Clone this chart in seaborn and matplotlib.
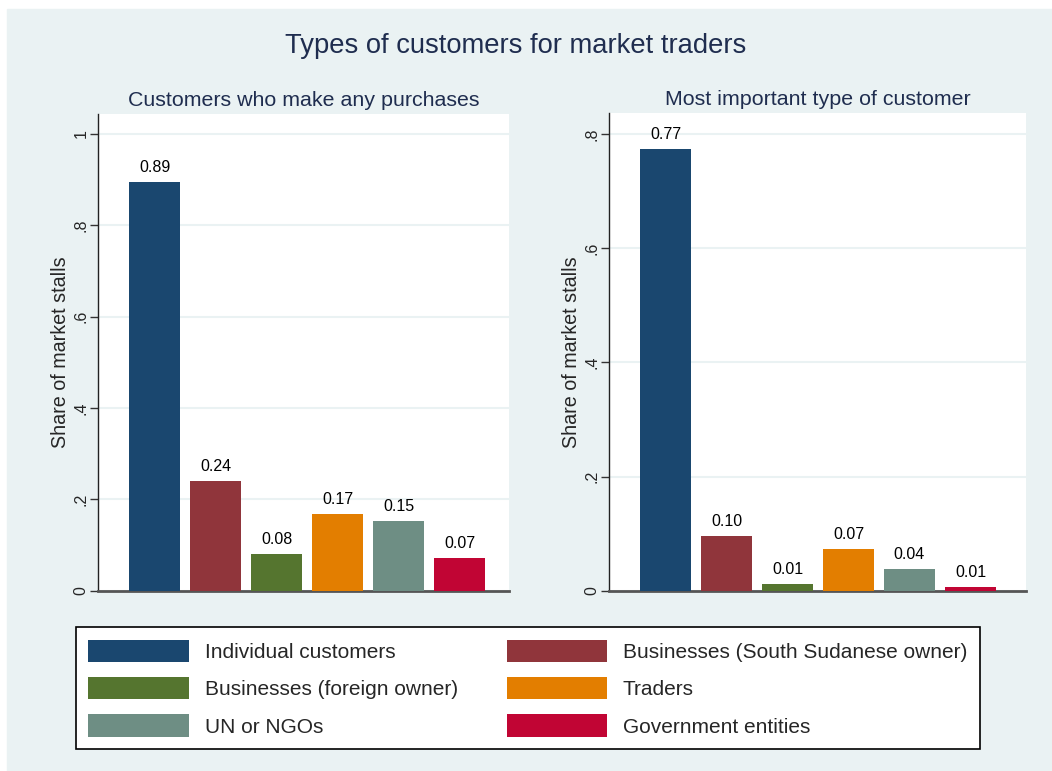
import numpy as np
import pandas as pd
import seaborn as sns
import matplotlib.pyplot as plt
from matplotlib.patches import Patch, Rectangle

# data
categories = ["Individual customers", "Businesses (South Sudanese owner)",
              "Businesses (foreign owner)", "Traders", "UN or NGOs",
              "Government entities"]
any_purchase = [0.894, 0.240, 0.080, 0.168, 0.153, 0.072]
most_important = [0.774, 0.096, 0.012, 0.073, 0.038, 0.007]
colors = ["#1a476f", "#90353b", "#55752f", "#e37e00", "#6e8e84", "#c10534"]
left_ticks = [0, 0.2, 0.4, 0.6, 0.8, 1.0]
right_ticks = [0, 0.2, 0.4, 0.6, 0.8]

BG = "#eaf2f3"
NAVY = "#1f2d4f"

sns.set_style("white")
plt.rcParams["font.family"] = ["Liberation Sans", "DejaVu Sans"]

fig = plt.figure(figsize=(10.52, 7.71), dpi=100, facecolor="white")
fig.add_artist(Rectangle((7 / 1052, 0), 1 - 7 / 1052, 1 - 9 / 771,
                         transform=fig.transFigure, color=BG, zorder=-10))

W, H = 1052, 771


def axes_at(x0, x1, top, bottom):
    return fig.add_axes([x0 / W, 1 - bottom / H, (x1 - x0) / W, (bottom - top) / H])


def stata_label(v):
    if v == 0:
        return "0"
    if v == 1:
        return "1"
    return ("%.1f" % v).lstrip("0")


def panel(ax, values, title, ticks, ylim, xlim):
    df = pd.DataFrame({"cat": categories, "val": values})
    sns.barplot(data=df, x="cat", y="val", hue="cat", palette=colors,
                order=categories, hue_order=categories, width=0.836,
                saturation=1, linewidth=0, legend=False, ax=ax, zorder=3)
    for c in ax.containers:
        ax.bar_label(c, fmt="%.2f", padding=5, fontsize=11.5, color="black")
    ax.set_facecolor("white")
    ax.set_ylim(*ylim)
    ax.set_xlim(*xlim)
    ax.set_yticks(ticks)
    ax.set_yticklabels([stata_label(t) for t in ticks], rotation=90,
                       va="center", fontsize=11.5)
    ax.tick_params(axis="y", length=6, width=1, color="#333333", pad=1, left=True)
    ax.tick_params(axis="x", bottom=False, labelbottom=False)
    ax.grid(axis="y", color=BG, linewidth=1.5, zorder=0)
    ax.set_axisbelow(True)
    for s in ["top", "right"]:
        ax.spines[s].set_visible(False)
    ax.spines["left"].set_color("#222222")
    ax.spines["left"].set_linewidth(1)
    ax.spines["bottom"].set_color("#555555")
    ax.spines["bottom"].set_linewidth(2)
    ax.set_xlabel("")
    ax.set_ylabel("Share of market stalls", fontsize=14.2, labelpad=2.5)
    ax.set_title(title, fontsize=15.4, color=NAVY, pad=6)


ax1 = axes_at(98, 509, 114, 590.7)
panel(ax1, any_purchase, "Customers who make any purchases", left_ticks,
      (0, 1.0438), (-0.93, 5.81))

ax2 = axes_at(609, 1026, 113, 590.7)
panel(ax2, most_important, "Most important type of customer", right_ticks,
      (0, 0.8368), (-0.926, 5.91))

fig.text(516 / W, 1 - 53 / H, "Types of customers for market traders",
         fontsize=19.7, color=NAVY, ha="center", va="baseline")

# legend, filled row-wise like the reference
order = [0, 2, 4, 1, 3, 5]
handles = [Patch(facecolor=colors[i], edgecolor="none") for i in order]
labels = [categories[i] for i in order]
leg = fig.legend(handles, labels, ncol=2, loc="upper left",
                 bbox_to_anchor=(76 / W, 1 - 627 / H), fontsize=15,
                 frameon=True, fancybox=False, edgecolor="black", framealpha=1,
                 handlelength=4.8, handleheight=1.28, handletextpad=0.77,
                 columnspacing=2.35, labelspacing=0.72, borderpad=0.6,
                 borderaxespad=0)
leg.get_frame().set_linewidth(1.2)

fig.savefig("out.png", dpi=100, facecolor="white")
